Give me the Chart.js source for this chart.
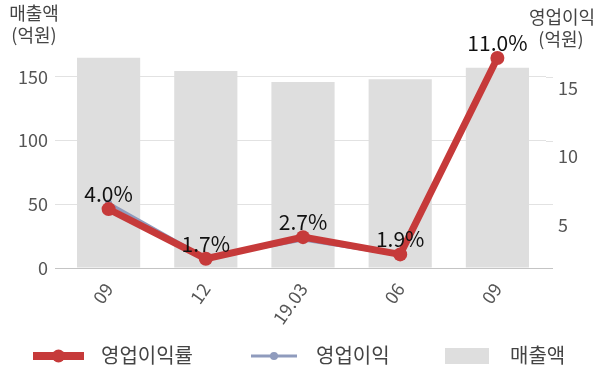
<!DOCTYPE html>
<html>
<head>
<meta charset="utf-8">
<script src="https://cdn.jsdelivr.net/npm/chart.js@4.4.1/dist/chart.umd.min.js"></script>
<style>
  html, body { margin: 0; padding: 0; background: #fff; }
</style>
</head>
<body>
<canvas id="myChart" width="600" height="383"></canvas>
<script>
  const labels = ['09', '12', '19.03', '06', '09'];
  const sales = [165, 154.5, 146, 148, 157];      // 매출액 (억원)
  const profit = [6.6, 2.6, 3.9, 2.8, 17.3];      // 영업이익 (억원)
  const margin = [4.0, 1.7, 2.7, 1.9, 11.0];      // 영업이익률 (%)
  const salesTicks = [0, 50, 100, 150];
  const profitTicks = [5, 10, 15];

  const FONT = "'Noto Sans CJK KR', 'Noto Sans', sans-serif";
  const RED = '#c63a3a';
  const BLUE = '#8f9bbd';
  const BAR = '#dedede';
  const GRID = '#e2e2e2';
  const TXT = '#555';

  const ctx = document.getElementById('myChart');

  // grid lines run a few px past the plot on the right
  const gridExtend = {
    id: 'gridExtend',
    beforeDatasetsDraw(chart) {
      const c = chart.ctx, a = chart.chartArea, y = chart.scales.y;
      c.save();
      c.lineWidth = 1;
      c.strokeStyle = GRID;
      y.ticks.forEach(t => {
        const py = Math.round(y.getPixelForValue(t.value)) + 0.5;
        c.beginPath(); c.moveTo(a.right, py); c.lineTo(a.right + 7, py); c.stroke();
      });
      c.strokeStyle = '#c4c4c4';
      c.beginPath(); c.moveTo(a.left - 5, a.bottom + 0.5); c.lineTo(a.right + 7, a.bottom + 0.5); c.stroke();
      c.restore();
    }
  };

  const pctLabels = {
    id: 'pctLabels',
    afterDatasetsDraw(chart) {
      const c = chart.ctx;
      const meta = chart.getDatasetMeta(0);
      c.save();
      c.font = '21px ' + FONT;
      c.fillStyle = '#111';
      c.textAlign = 'center';
      c.textBaseline = 'alphabetic';
      meta.data.forEach((p, i) => {
        c.fillText(margin[i].toFixed(1) + '%', p.x, p.y - 7);
      });
      c.restore();
    }
  };

  const extras = {
    id: 'extras',
    afterDraw(chart) {
      const c = chart.ctx;
      c.save();
      c.font = '18px ' + FONT;
      c.fillStyle = '#444';
      c.textAlign = 'center';
      c.textBaseline = 'middle';
      c.fillText('매출액', 34, 13);
      c.fillText('(억원)', 34, 35);
      c.fillText('영업이익', 562, 17);
      c.fillText('(억원)', 561, 39);

      // legend
      const ly = 356;
      c.strokeStyle = RED; c.lineWidth = 8;
      c.beginPath(); c.moveTo(33, ly); c.lineTo(84, ly); c.stroke();
      c.fillStyle = RED;
      c.beginPath(); c.arc(58.5, ly, 6.5, 0, Math.PI * 2); c.fill();

      c.strokeStyle = BLUE; c.lineWidth = 3;
      c.beginPath(); c.moveTo(251, ly); c.lineTo(297, ly); c.stroke();
      c.fillStyle = BLUE;
      c.beginPath(); c.arc(274, ly, 4, 0, Math.PI * 2); c.fill();

      c.fillStyle = BAR;
      c.fillRect(445, ly - 8, 44, 16);

      c.font = '20px ' + FONT;
      c.fillStyle = '#444';
      c.textAlign = 'left';
      c.fillText(chart.data.datasets[0].label, 101, ly - 1);
      c.fillText(chart.data.datasets[1].label, 316, ly - 1);
      c.fillText(chart.data.datasets[2].label, 510, ly - 1);
      c.restore();
    }
  };

  new Chart(ctx, {
    type: 'bar',
    data: {
      labels: labels,
      datasets: [
        {
          type: 'line',
          label: '영업이익률',
          data: margin,
          yAxisID: 'y2',
          borderColor: RED,
          backgroundColor: RED,
          borderWidth: 7,
          pointRadius: 7,
          pointBorderWidth: 0,
          pointBackgroundColor: RED,
          tension: 0,
          order: 0
        },
        {
          type: 'line',
          label: '영업이익',
          data: profit,
          yAxisID: 'y1',
          borderColor: BLUE,
          backgroundColor: BLUE,
          borderWidth: 3,
          pointRadius: 3.5,
          pointBorderWidth: 0,
          pointBackgroundColor: BLUE,
          tension: 0,
          order: 1
        },
        {
          type: 'bar',
          label: '매출액',
          data: sales,
          yAxisID: 'y',
          backgroundColor: BAR,
          barPercentage: 0.65,
          categoryPercentage: 1.0,
          order: 2
        }
      ]
    },
    options: {
      responsive: false,
      animation: false,
      layout: { padding: { top: 36, bottom: 50, left: 0, right: 0 } },
      plugins: {
        legend: { display: false },
        tooltip: { enabled: false }
      },
      scales: {
        x: {
          offset: true,
          grid: { display: false, drawTicks: false },
          border: { display: false },
          ticks: {
            color: TXT,
            font: { family: FONT, size: 18 },
            minRotation: 55,
            maxRotation: 55,
            padding: 11
          },
          afterFit(axis) { axis.height = 65; }
        },
        y: {
          position: 'left',
          min: 0,
          max: 182,
          grid: { color: GRID, tickLength: 5, drawTicks: true },
          border: { display: false },
          ticks: { color: TXT, font: { family: FONT, size: 18 }, padding: 7 },
          afterBuildTicks(axis) { axis.ticks = salesTicks.map(v => ({ value: v })); },
          afterFit(axis) { axis.width = 60; }
        },
        y1: {
          position: 'right',
          min: 1.86,
          max: 18.8,
          grid: { display: false, drawTicks: false },
          border: { display: false },
          ticks: { color: TXT, font: { family: FONT, size: 18 }, padding: 12 },
          afterBuildTicks(axis) { axis.ticks = profitTicks.map(v => ({ value: v })); },
          afterFit(axis) { axis.width = 54; }
        },
        y2: {
          display: false,
          min: 1.27,
          max: 12.02
        }
      }
    },
    plugins: [gridExtend, pctLabels, extras]
  });
</script>
</body>
</html>
